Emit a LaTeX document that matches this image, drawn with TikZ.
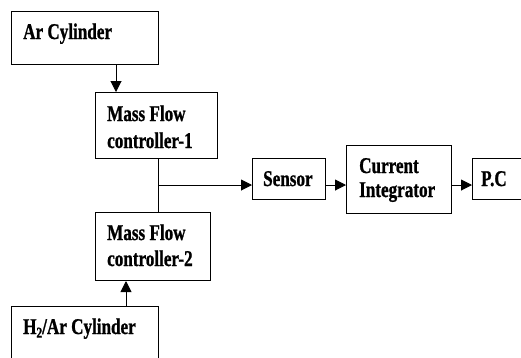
\documentclass[tikz,border=0pt]{standalone}
\usepackage{fontspec}
\setmainfont{Liberation Serif}[FakeStretch=0.76,FakeBold=1]
\usetikzlibrary{arrows.meta}
\begin{document}
\begin{tikzpicture}[x=1pt,y=-1pt,
  box/.style={draw,line width=1pt,rectangle,inner sep=0pt,anchor=north west},
  lbl/.style={anchor=base west,inner sep=0pt,font=\fontsize{22.5}{26}\selectfont\bfseries},
  arr/.style={line width=1pt,-{Triangle[length=11pt,width=11pt]}},
  ln/.style={line width=1pt}]
\useasboundingbox (0,0) rectangle (521,357);
\clip (0,0) rectangle (521,357);
% boxes
\node[box,minimum width=147pt,minimum height=53pt] (ar) at (11,11) {};
\node[box,minimum width=122pt,minimum height=66pt] (mfc1) at (95,92) {};
\node[box,minimum width=115pt,minimum height=68pt] (mfc2) at (95,212) {};
\node[box,minimum width=147pt,minimum height=70pt] (h2) at (11,306) {};
\node[box,minimum width=73pt,minimum height=41pt] (sensor) at (252,158) {};
\node[box,minimum width=105pt,minimum height=68pt] (ci) at (346,145) {};
\node[box,minimum width=80pt,minimum height=41pt] (pc) at (472,158) {};
% labels
\node[lbl] (tar) at (23,39) {Ar Cylinder};
\node[lbl] (tm1a) at (107,121) {Mass Flow};
\node[lbl] (tm1b) at (107,148) {controller-1};
\node[lbl] (tm2a) at (107,240) {Mass Flow};
\node[lbl] (tm2b) at (107,266) {controller-2};
\node[lbl] (th2) at (23,334) {H\raisebox{-0.35ex}{\fontsize{15}{16}\selectfont 2}/Ar Cylinder};
\node[lbl] (ts) at (263,186) {Sensor};
\node[lbl] (tci1) at (359,173) {Current};
\node[lbl] (tci2) at (359,197) {Integrator};
\node[lbl] (tpc) at (481,186) {P.C};
% connectors
\coordinate (j) at (158,185);
\draw[arr] ([xshift=21pt]mfc1.north west |- ar.south) -- ([xshift=21pt]mfc1.north west);
\draw[ln] (j |- mfc1.south) -- (j |- mfc2.north);
\draw[arr] (j) -- (j -| sensor.west);
\draw[arr] (sensor.east |- j) -- (ci.west |- j);
\draw[arr] (ci.east |- j) -- (pc.west |- j);
\draw[arr] ([xshift=115pt]h2.north west) -- ([xshift=115pt]h2.north west |- mfc2.south);
\end{tikzpicture}
\end{document}
